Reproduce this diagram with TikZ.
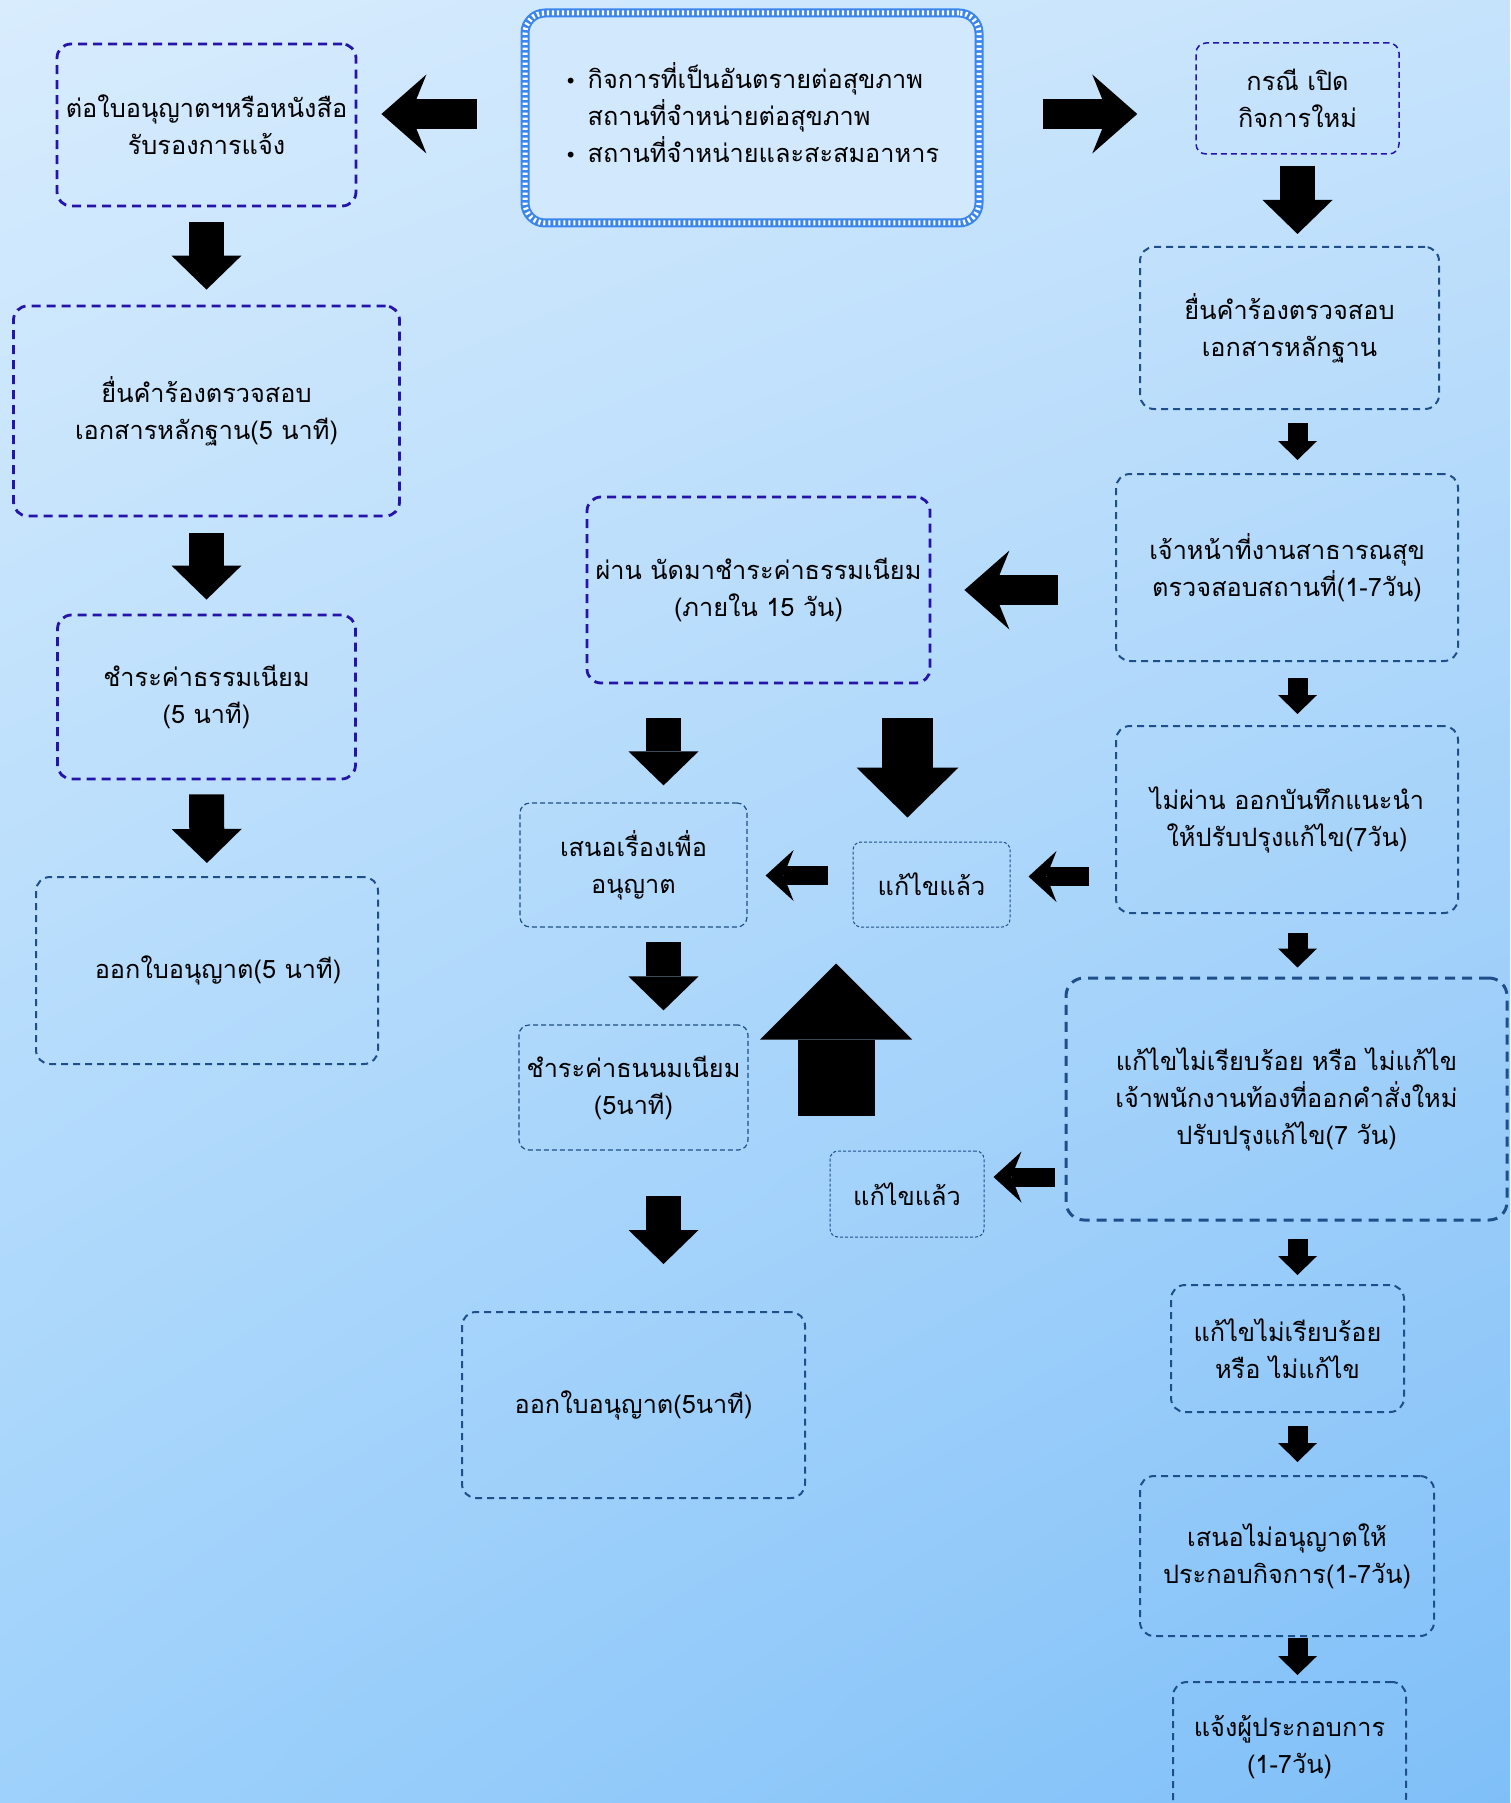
\documentclass[tikz,border=0pt]{standalone}
\usepackage{fontspec}
\setmainfont{Loma}[Script=Thai]
\newfontfamily\symfont{DejaVu Sans}
\usetikzlibrary{arrows.meta,shadings}

\definecolor{bgtl}{HTML}{D8ECFD}
\definecolor{bgtr}{HTML}{C6E3FC}
\definecolor{bgbl}{HTML}{9ED1FB}
\definecolor{bgbr}{HTML}{7FBFF8}
\definecolor{boxviolet}{HTML}{2414AA}
\definecolor{boxsteel}{HTML}{1F4F8A}
\definecolor{ropeblue}{HTML}{3A86EE}
\definecolor{ropefill}{HTML}{D2E8FC}

\begin{document}
\begin{tikzpicture}[x=1pt,y=-1pt,
  every node/.style={font=\fontsize{25.3}{37}\selectfont, align=center, inner sep=0pt},
  boxdim/.style 2 args={minimum width=#1pt, minimum height=#2pt},
  violetbox/.style={draw=boxviolet, line width=2.8pt, dash pattern=on 9pt off 6pt, rounded corners=14pt},
  violetthin/.style={draw=boxviolet, line width=1.5pt, dash pattern=on 6pt off 4pt, rounded corners=10pt},
  steelbox/.style={draw=boxsteel, line width=2pt, dash pattern=on 7pt off 5pt, rounded corners=14pt},
  steelheavy/.style={draw=boxsteel, line width=3pt, dash pattern=on 10pt off 7pt, rounded corners=18pt},
  steelthin/.style={draw=boxsteel, line width=1.2pt, dash pattern=on 5pt off 3pt, rounded corners=10pt},
  steeldot/.style={draw=boxsteel, line width=1pt, dash pattern=on 3pt off 2pt, rounded corners=8pt},
  rope/.style={draw=ropeblue, line width=9pt, fill=ropefill, rounded corners=20pt,
    postaction={draw=white, line width=5pt, dash pattern=on 2.2pt off 2.8pt, rounded corners=20pt}},
  fatdown/.style={line width=35pt, -{Triangle[length=34pt, width=70pt, line width=0pt]}},
  slimdown/.style={line width=20pt, -{Triangle[length=19pt, width=39pt, line width=0pt]}},
  bigdown/.style={line width=51pt, -{Triangle[length=50pt, width=102pt, line width=0pt]}},
  bigup/.style={line width=77pt, -{Triangle[length=76pt, width=152pt, line width=0pt]}},
  notch/.style={line width=30pt, -{Stealth[length=45pt, width=79pt, inset=16pt, line width=0pt]}},
  slimnotch/.style={line width=19pt, -{Stealth[length=28pt, width=51pt, inset=10pt, line width=0pt]}}]

  %--- page and background
  \useasboundingbox (0,0) rectangle (1510,1803);
  \shade[upper left=bgtl, upper right=bgtr, lower left=bgbl, lower right=bgbr]
    (0,0) rectangle (1510,1803);

  %--- column centres
  \def\lx{206.5}\def\mx{633.5}\def\rx{1287}

  %==================== top ====================
  \node[rope, boxdim={454}{210}] (hazard) at (752,118)
    {\begin{tabular}{@{}l@{\hspace{11pt}}l@{}}
      {\symfont\fontsize{20}{37}\selectfont •} & กิจการที่เป็นอันตรายต่อสุขภาพ\\
       & สถานที่จำหน่ายต่อสุขภาพ\\
      {\symfont\fontsize{20}{37}\selectfont •} & สถานที่จำหน่ายและสะสมอาหาร
     \end{tabular}};

  %==================== left column (renewal) ====================
  \node[violetbox, boxdim={299}{162}] (renew) at (\lx,125)
    {ต่อใบอนุญาตฯหรือหนังสือ\\รับรองการแจ้ง};
  \node[violetbox, boxdim={386}{210}] (renewdoc) at (\lx,411)
    {ยื่นคำร้องตรวจสอบ\\เอกสารหลักฐาน(5 นาที)};
  \node[violetbox, boxdim={298}{164}] (renewfee) at (\lx,697)
    {ชำระค่าธรรมเนียม\\(5 นาที)};
  \node[steelbox, boxdim={342}{187}] (renewissue) at (207,970.5)
    {\hspace*{22pt}ออกใบอนุญาต(5 นาที)};

  \draw[fatdown, shorten <=15pt, shorten >=15pt] (renew.south) -- (renewdoc.north);
  \draw[fatdown, shorten <=16pt, shorten >=14pt] (renewdoc.south) -- (renewfee.north);
  \draw[fatdown, shorten <=14pt, shorten >=13pt] (renewfee.south) -- (renewissue.north);

  %==================== right column (new business) ====================
  \node[violetthin, boxdim={203}{111}] (newbiz) at (1297.5,98.5)
    {กรณี เปิด\\กิจการใหม่};
  \node[steelbox, boxdim={299}{162}] (newdoc) at (1289.5,328)
    {ยื่นคำร้องตรวจสอบ\\เอกสารหลักฐาน};
  \node[steelbox, boxdim={342}{187}] (site) at (\rx,567.5)
    {เจ้าหน้าที่งานสาธารณสุข\\ตรวจสอบสถานที่(1-7วัน)};
  \node[steelbox, boxdim={342}{187}] (advise) at (\rx,819.5)
    {ไม่ผ่าน ออกบันทึกแนะนำ\\ให้ปรับปรุงแก้ไข(7วัน)};
  \node[steelheavy, boxdim={441}{242}] (order) at (1286.5,1099)
    {แก้ไขไม่เรียบร้อย หรือ ไม่แก้ไข\\เจ้าพนักงานท้องที่ออกคำสั่งใหม่\\ปรับปรุงแก้ไข(7 วัน)};
  \node[steelbox, boxdim={233}{127}] (fail) at (1287.5,1348.5)
    {แก้ไขไม่เรียบร้อย\\หรือ ไม่แก้ไข};
  \node[steelbox, boxdim={294}{160}] (deny) at (\rx,1556)
    {เสนอไม่อนุญาตให้\\ประกอบกิจการ(1-7วัน)};
  \node[steelbox, boxdim={233}{130}] (notify) at (1289.5,1747)
    {แจ้งผู้ประกอบการ\\(1-7วัน)};

  \draw[fatdown, shorten <=11pt, shorten >=12pt] (newbiz.south) -- (newbiz.south |- newdoc.north);
  \draw[slimdown, shorten <=13pt, shorten >=13pt] (newdoc.south -| newbiz.south) -- (site.north -| newbiz.south);
  \draw[slimdown, shorten <=16pt, shorten >=11pt] (site.south -| newbiz.south) -- (advise.north -| newbiz.south);
  \draw[slimdown, shorten <=19pt, shorten >=9pt] (advise.south -| newbiz.south) -- (order.north -| newbiz.south);
  \draw[slimdown, shorten <=17pt, shorten >=9pt] (order.south -| newbiz.south) -- (fail.north -| newbiz.south);
  \draw[slimdown, shorten <=13pt, shorten >=13pt] (fail.south -| newbiz.south) -- (deny.north -| newbiz.south);
  \draw[slimdown, shorten <=1pt, shorten >=6pt] (deny.south -| newbiz.south) -- (notify.north -| newbiz.south);

  %==================== middle column ====================
  \node[violetbox, boxdim={343}{186}] (pay15) at (758.5,590)
    {ผ่าน นัดมาชำระค่าธรรมเนียม\\(ภายใน 15 วัน)};
  \node[steelthin, boxdim={227}{124}] (propose) at (\mx,865)
    {เสนอเรื่องเพื่อ\\อนุญาต};
  \node[steelthin, boxdim={229}{125}] (feepay) at (\mx,1087.5)
    {ชำระค่าธนนมเนียม\\(5นาที)};
  \node[steelbox, boxdim={343}{186}] (issue) at (\mx,1405)
    {ออกใบอนุญาต(5นาที)};
  \node[steeldot, boxdim={157}{85}] (fixed1) at (931.5,884.5) {แก้ไขแล้ว};
  \node[steeldot, boxdim={154}{86}] (fixed2) at (907,1194) {แก้ไขแล้ว};

  % helper points for the fat arrows
  \coordinate (mcol) at ([xshift=30pt]propose.north);
  \coordinate (f1top) at ([xshift=-24pt]fixed1.north);
  \coordinate (f2top) at ([xshift=-71pt]fixed2.north);
  \coordinate (hzl) at ([yshift=4pt]hazard.west);
  \coordinate (hzr) at ([yshift=4pt]hazard.east);
  \coordinate (fix1in) at ([yshift=8pt]fixed1.east);
  \coordinate (fix1out) at ([yshift=9pt]fixed1.west);
  \coordinate (fix2in) at ([yshift=17pt]fixed2.east);

  \draw[fatdown, shorten <=34pt, shorten >=17pt] (mcol |- pay15.south) -- (mcol);
  \draw[fatdown, shorten <=14pt, shorten >=14pt] (mcol |- propose.south) -- (mcol |- feepay.north);
  \draw[fatdown, shorten <=45pt, shorten >=47pt] (mcol |- feepay.south) -- (mcol |- issue.north);
  \draw[bigdown, shorten <=34pt, shorten >=24pt] (f1top |- pay15.south) -- (f1top);
  \draw[bigup, shorten <=35pt, shorten >=36pt] (f2top) -- (f2top |- fixed1.south);

  %==================== sideways arrows ====================
  \draw[notch, shorten <=44pt, shorten >=24pt] (hzl) -- (hzl -| renew.east);
  \draw[notch, shorten <=59pt, shorten >=58pt] (hzr) -- (hzr -| newbiz.west);
  \draw[notch, shorten <=57pt, shorten >=33pt] (site.west |- pay15.east) -- (pay15.east);
  \draw[slimnotch, shorten <=26pt, shorten >=18pt] (advise.west |- fix1in) -- (fix1in);
  \draw[slimnotch, shorten <=25pt, shorten >=18pt] (fix1out) -- (fix1out -| propose.east);
  \draw[slimnotch, shorten <=10pt, shorten >=9pt] (order.west |- fix2in) -- (fix2in);

\end{tikzpicture}
\end{document}
